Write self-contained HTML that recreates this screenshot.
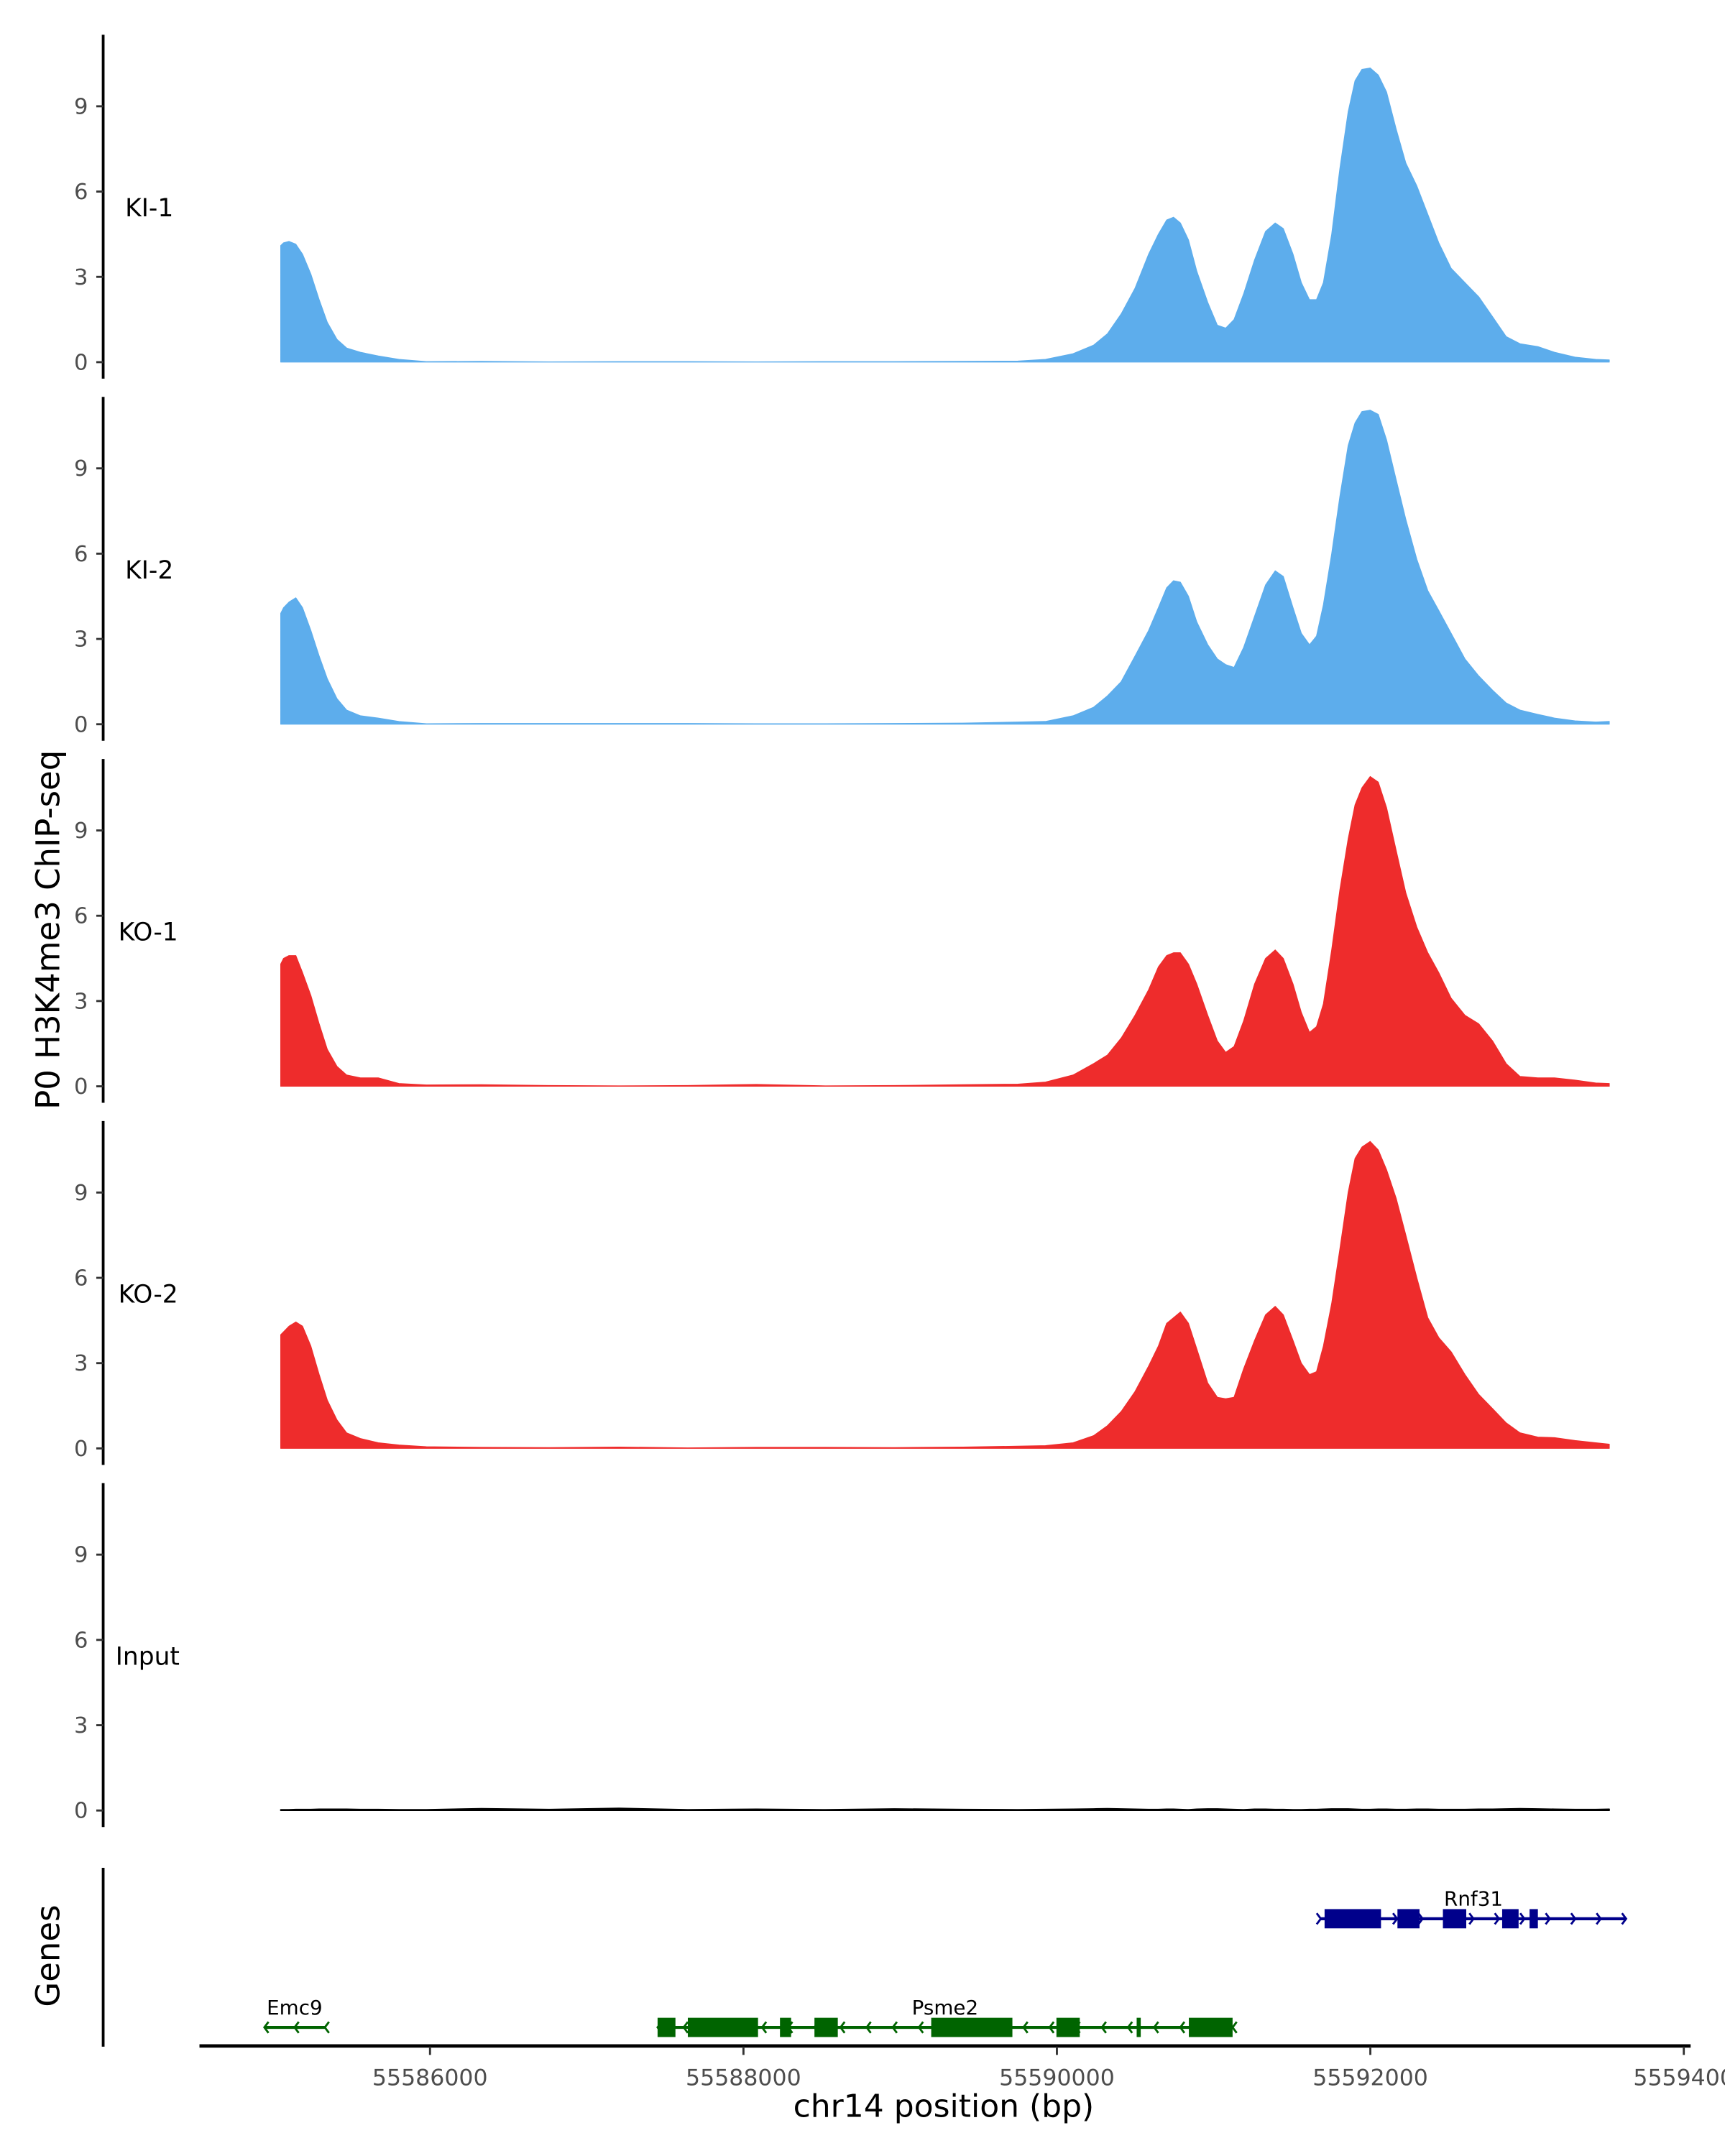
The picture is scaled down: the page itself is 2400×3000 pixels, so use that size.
<!DOCTYPE html>
<html><head><meta charset="utf-8">
<style>
html,body{margin:0;padding:0;background:#fff;}
svg{display:block;}
text{font-family:"DejaVu Sans","Liberation Sans",sans-serif;}
</style></head>
<body>
<svg id="chart" xmlns="http://www.w3.org/2000/svg" width="2400" height="3000" viewBox="0 0 1254 1567.5" preserveAspectRatio="none">
<g id="panels"></g>
<g id="genes"></g>
<text x="0" y="0" transform="translate(43,676) rotate(-90)" text-anchor="middle" font-size="23.5" fill="#000">P0 H3K4me3 ChIP-seq</text>
<text x="0" y="0" transform="translate(43,1422) rotate(-90)" text-anchor="middle" font-size="23.5" fill="#000">Genes</text>
<text x="686" y="1539" text-anchor="middle" font-size="23" fill="#000">chr14 position (bp)</text>
</svg>
<script>
const positions = [55585047,55585065,55585100,55585144,55585187,55585240,55585293,55585345,55585407,55585468,55585556,55585670,55585802,55585977,55586328,55586767,55587206,55587645,55588083,55588523,55588962,55589400,55589751,55589927,55590103,55590234,55590322,55590410,55590498,55590585,55590647,55590700,55590744,55590788,55590840,55590893,55590963,55591024,55591077,55591130,55591191,55591261,55591331,55591393,55591445,55591507,55591560,55591612,55591656,55591700,55591753,55591805,55591858,55591902,55591946,55591999,55592051,55592104,55592165,55592227,55592297,55592367,55592437,55592516,55592604,55592692,55592780,55592867,55592955,55593069,55593175,55593306,55593438,55593525];
const ki1 = [4.1,4.2,4.25,4.15,3.8,3.1,2.2,1.4,0.8,0.5,0.35,0.22,0.1,0.02,0.03,0.01,0.02,0.02,0.01,0.02,0.02,0.03,0.04,0.1,0.3,0.6,1.0,1.7,2.6,3.8,4.5,5.0,5.1,4.9,4.3,3.2,2.1,1.3,1.2,1.5,2.4,3.6,4.6,4.9,4.7,3.8,2.8,2.2,2.2,2.8,4.5,6.8,8.8,9.9,10.3,10.35,10.1,9.5,8.2,7.0,6.2,5.2,4.2,3.3,2.8,2.3,1.6,0.9,0.65,0.55,0.35,0.18,0.1,0.08];
const ki2 = [3.9,4.1,4.3,4.45,4.1,3.3,2.4,1.6,0.9,0.5,0.3,0.22,0.1,0.02,0.03,0.03,0.03,0.03,0.02,0.02,0.03,0.04,0.08,0.1,0.3,0.6,1.0,1.5,2.4,3.3,4.1,4.8,5.05,5.0,4.5,3.6,2.8,2.3,2.1,2.0,2.7,3.8,4.9,5.4,5.2,4.1,3.2,2.8,3.1,4.2,6.0,8.0,9.8,10.6,11.0,11.05,10.9,10.0,8.6,7.2,5.8,4.7,4.0,3.2,2.3,1.7,1.2,0.75,0.5,0.35,0.22,0.12,0.08,0.1];
const ko1 = [4.3,4.5,4.6,4.6,4.0,3.2,2.2,1.3,0.7,0.4,0.3,0.3,0.1,0.05,0.06,0.03,0.02,0.03,0.07,0.02,0.03,0.06,0.08,0.15,0.4,0.8,1.1,1.7,2.5,3.4,4.2,4.6,4.7,4.7,4.3,3.6,2.5,1.6,1.2,1.4,2.3,3.6,4.5,4.8,4.5,3.6,2.6,1.9,2.1,2.9,4.8,6.9,8.7,9.9,10.5,10.9,10.7,9.8,8.3,6.8,5.6,4.7,4.0,3.1,2.5,2.2,1.6,0.8,0.35,0.3,0.3,0.22,0.12,0.1];
const ko2 = [4.0,4.1,4.3,4.45,4.3,3.6,2.6,1.7,1.0,0.55,0.35,0.2,0.12,0.06,0.04,0.03,0.05,0.02,0.04,0.04,0.03,0.05,0.08,0.1,0.2,0.45,0.8,1.3,2.0,2.9,3.6,4.4,4.6,4.8,4.4,3.5,2.3,1.8,1.75,1.8,2.8,3.8,4.7,5.0,4.7,3.8,3.0,2.6,2.7,3.6,5.1,7.0,9.0,10.2,10.6,10.8,10.5,9.8,8.8,7.5,6.0,4.6,3.9,3.4,2.6,1.9,1.4,0.9,0.55,0.4,0.38,0.28,0.2,0.15];
const inputSig = [0.03,0.03,0.03,0.04,0.04,0.04,0.05,0.05,0.05,0.05,0.04,0.04,0.03,0.03,0.07,0.04,0.08,0.03,0.05,0.03,0.06,0.04,0.03,0.04,0.05,0.06,0.07,0.06,0.05,0.04,0.04,0.05,0.05,0.04,0.03,0.05,0.06,0.06,0.05,0.04,0.03,0.05,0.05,0.04,0.04,0.03,0.03,0.04,0.04,0.05,0.06,0.06,0.06,0.05,0.04,0.04,0.05,0.05,0.04,0.04,0.05,0.05,0.04,0.04,0.04,0.05,0.05,0.06,0.07,0.06,0.05,0.04,0.04,0.05];
const trackNames = ["KI-1","KI-2","KO-1","KO-2","Input"];
const trackColors = ["#5DADEC","#5DADEC","#EE2C2C","#EE2C2C","#000000"];
const yTicks = [0,3,6,9];
const xTicks = [55586000,55588000,55590000,55592000,55594000];
const xTickLabels = ["55586000","55588000","55590000","55592000","5559400"];
const geneNames = ["Rnf31","Psme2","Emc9"];
const geneStarts = [55591684,55587452,55584943];
const geneEnds = [55593632,55591121,55585329];
const geneStrands = ["+","-","-"];
const geneRows = [0,1,1];
const geneColors = ["#00008B","#006400","#006400"];
const rnf31Exons = [[55591708,55592068],[55592173,55592314],[55592463,55592612],[55592841,55592946],[55593016,55593069]];
const psme2Exons = [[55587452,55587566],[55587645,55588093],[55588233,55588304],[55588453,55588602],[55589198,55589716],[55589997,55590146],[55590509,55590535],[55590842,55591121]];
const emc9Exons = [];

const NS="http://www.w3.org/2000/svg";
const signals=[ki1,ki2,ko1,ko2,inputSig];
function xs(bp){return 312.6+(bp-55586000)*0.11393;}
function ys(v,i){return 263.3+i*263.25-v*20.67;}
function mk(tag,attrs,parent){const e=document.createElementNS(NS,tag);for(const k in attrs)e.setAttribute(k,attrs[k]);parent.appendChild(e);return e;}
const panels=document.getElementById('panels');
signals.forEach((sig,i)=>{
  const g=mk('g',{},panels);
  
  
  const z=ys(0,i);
  const ax=mk('line',{x1:75,x2:75,y1:z-238,y2:z+12,stroke:'#000','stroke-width':2},g);
  
  
  yTicks.forEach(t=>{
    const y=ys(t,i);
    const tk=mk('line',{x1:70,x2:75,y1:y,y2:y,stroke:'#333','stroke-width':1.5},g);
    
    
    const tl=mk('text',{x:64,y:y+5.5,'text-anchor':'end','font-size':16,fill:'#4d4d4d'},g);
    
    
    tl.textContent=t;
  });
  const lab=mk('text',{x:i===4?84:(i>=2?86:91),y:z-106,'font-size':18,fill:'#000'},g);
  
  
  lab.textContent=trackNames[i];
  let d='M'+xs(positions[0]).toFixed(2)+','+z.toFixed(2);
  positions.forEach((p,k)=>{d+=' L'+xs(p).toFixed(2)+','+ys(sig[k],i).toFixed(2);});
  d+=' L'+xs(positions[positions.length-1]).toFixed(2)+','+z.toFixed(2)+' Z';
  const area=mk('path',{d:d,fill:trackColors[i],stroke:trackColors[i],'stroke-width':i===4?0.8:0.5,'stroke-linejoin':'round'},g);
  
  
});
const gg=document.getElementById('genes');
const gax=mk('line',{x1:75,x2:75,y1:1358,y2:1488,stroke:'#000','stroke-width':2},gg);


const xax=mk('line',{x1:145,x2:1229,y1:1487.5,y2:1487.5,stroke:'#000','stroke-width':2.5},gg);


xTicks.forEach((t,k)=>{
  const x=xs(t);
  const tk=mk('line',{x1:x,x2:x,y1:1488,y2:1494,stroke:'#333','stroke-width':1.5},gg);
  
  
  const tl=mk('text',{x:x,y:1516,'text-anchor':'middle','font-size':16.5,fill:'#4d4d4d'},gg);
  
  
  tl.textContent=xTickLabels[k];
});
const exonSets=[rnf31Exons,psme2Exons,emc9Exons];
const rowY=[1395,1474];
geneNames.forEach((nm,k)=>{
  const g=mk('g',{},gg);
  
  
  const y=rowY[geneRows[k]],c=geneColors[k];
  const x1=xs(geneStarts[k]),x2=xs(geneEnds[k]);
  mk('line',{x1:x1,x2:x2,y1:y,y2:y,stroke:c,'stroke-width':2.2},g);
  const n=Math.max(2,Math.round((x2-x1)/19));
  for(let j=0;j<=n;j++){
    const ax=x1+(x2-x1)*j/n;
    const dir=geneStrands[k]==='+'?1:-1;
    mk('path',{d:`M${ax-3*dir},${y-4} L${ax},${y} L${ax-3*dir},${y+4}`,fill:'none',stroke:c,'stroke-width':1.5},g);
  }
  exonSets[k].forEach(e=>{
    const r=mk('rect',{x:xs(e[0]),y:y-7,width:Math.max(2,xs(e[1])-xs(e[0])),height:14,fill:c},g);
    
    
  });
  const t=mk('text',{x:(x1+x2)/2,y:y-9.5,'text-anchor':'middle','font-size':14.5,fill:'#000'},g);
  
  
  t.textContent=nm;
});
</script>
</body></html>
